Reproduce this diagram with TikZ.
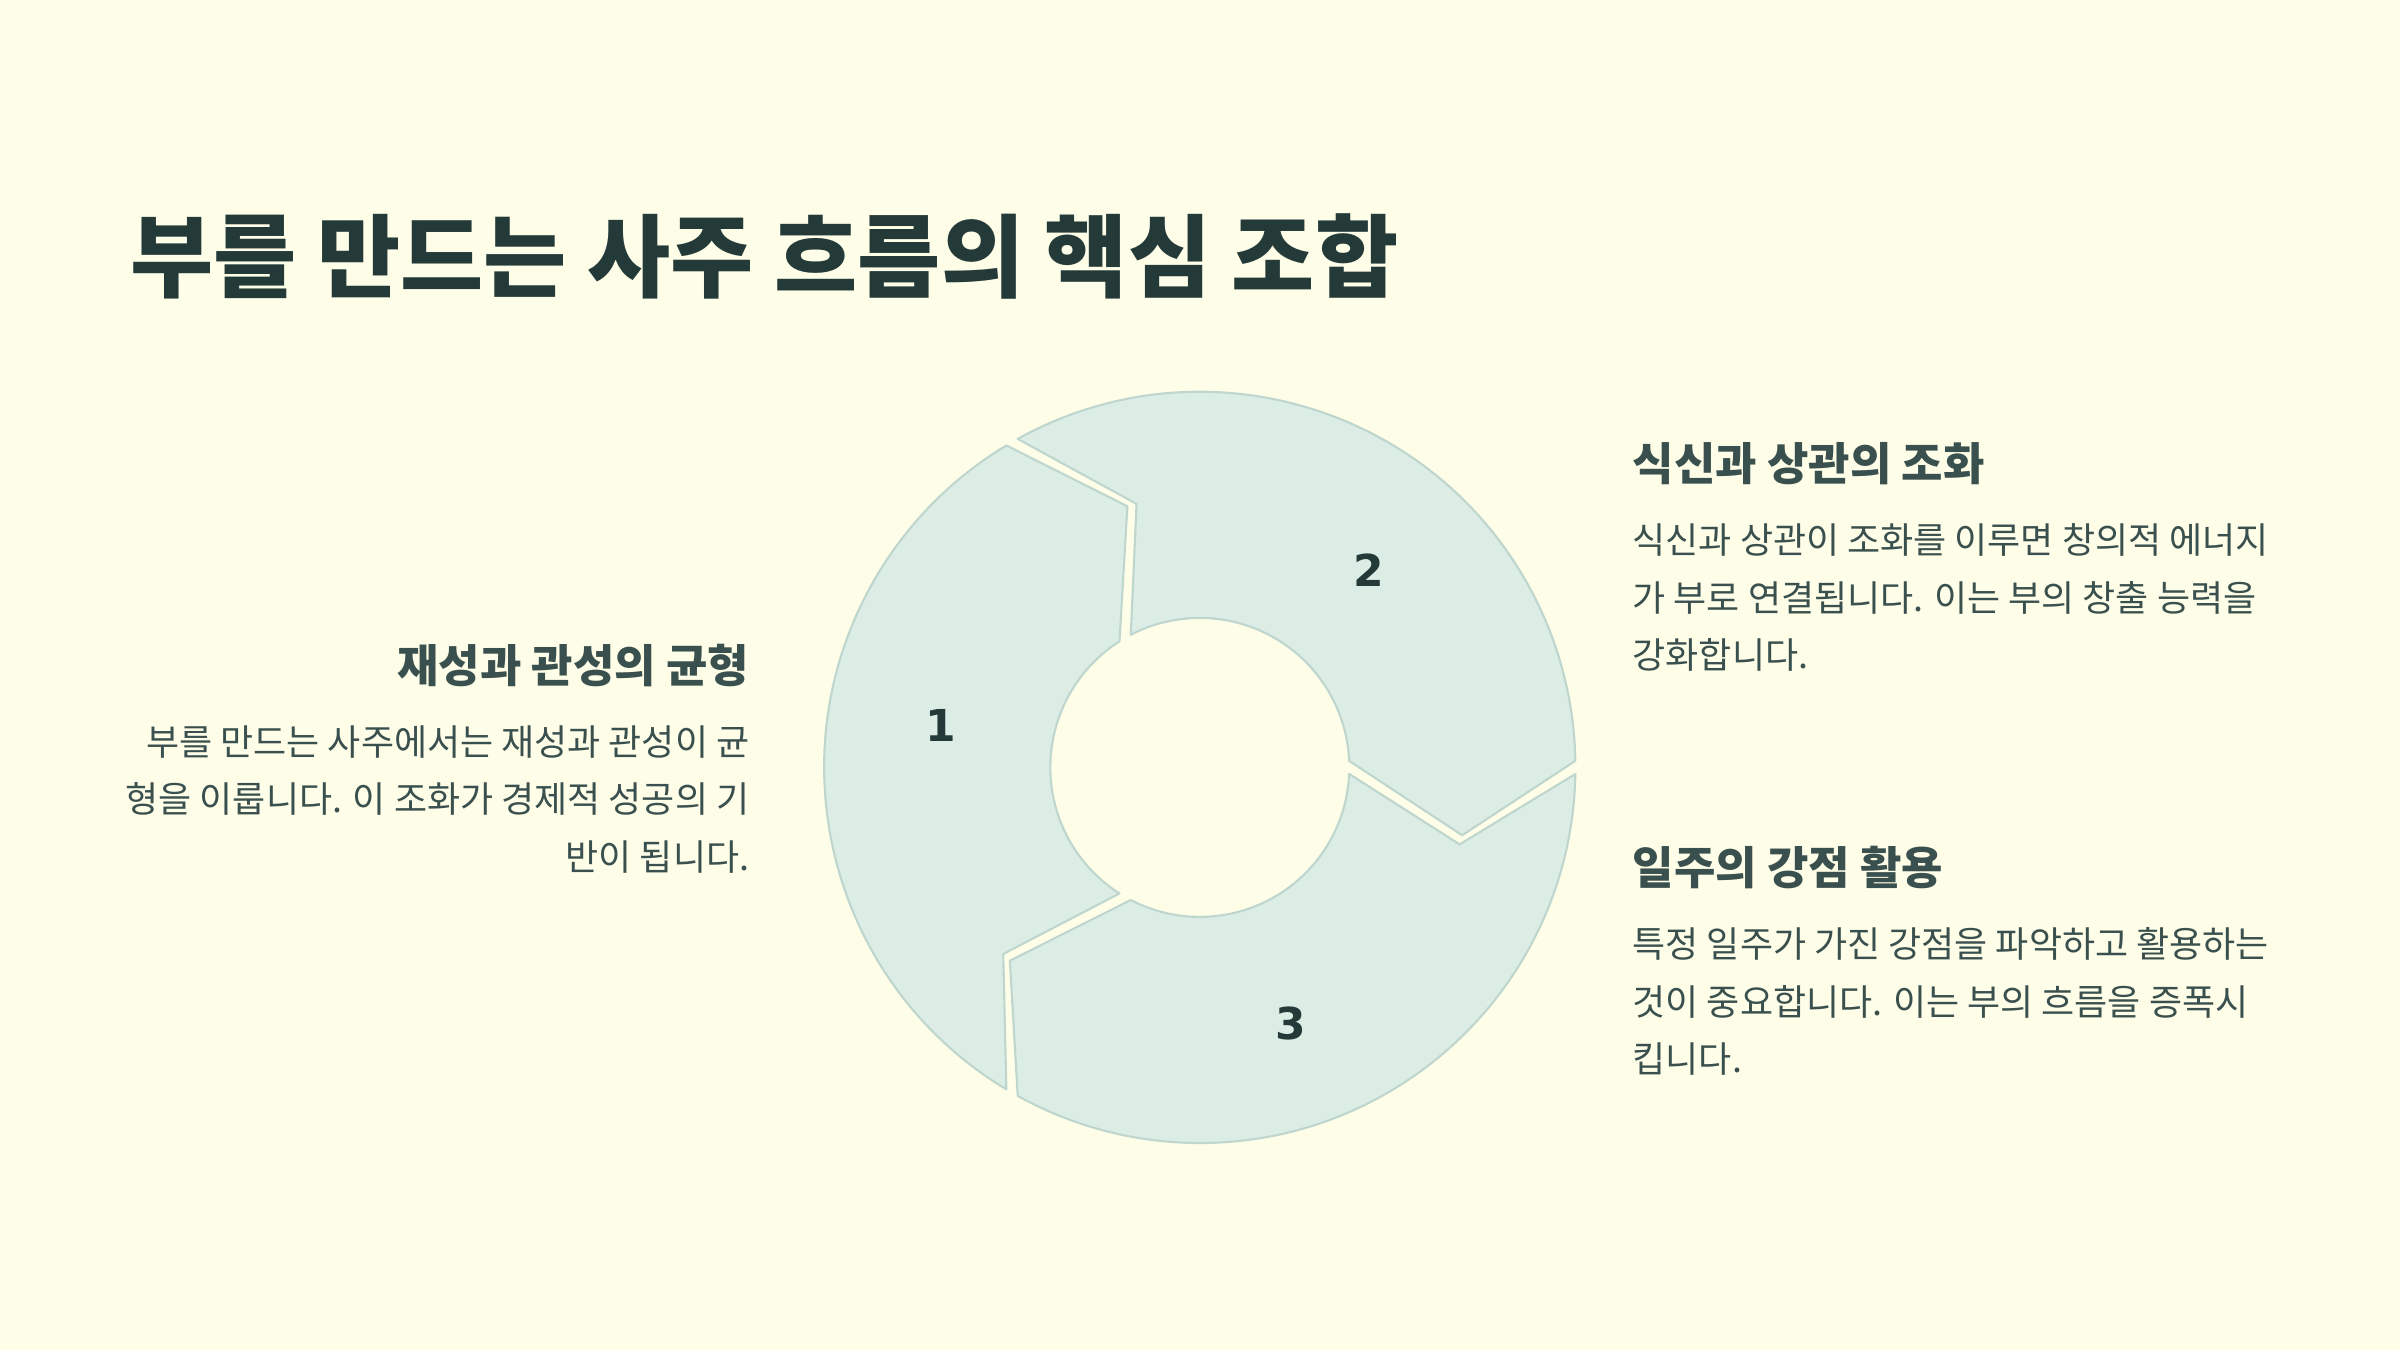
\documentclass[tikz,border=0pt]{standalone}
\usepackage{fontspec}
\setmainfont{Noto Sans CJK KR}
\newfontfamily\numfont{DejaVu Sans}
\usetikzlibrary{positioning}
\definecolor{paper}{HTML}{FEFDE8}
\definecolor{ringfill}{HTML}{DCEDE5}
\definecolor{ringline}{HTML}{BFD6CE}
\definecolor{ink}{HTML}{243A38}
\definecolor{bodyink}{HTML}{3A504E}
\tikzset{
  seg/.style  = {fill=ringfill, draw=ringline, line width=0.6pt, line join=round},
  num/.style  = {font=\numfont\bfseries\fontsize{12.5}{14}\selectfont, text=ink, inner sep=0pt},
  ttl/.style  = {font=\bfseries\fontsize{25.7}{30}\selectfont, text=ink, inner sep=0pt},
  head/.style = {font=\bfseries\fontsize{12.8}{15}\selectfont, text=bodyink, inner sep=0pt},
  body/.style = {font=\fontsize{10.23}{16.36}\selectfont, text=bodyink, inner sep=0pt},
}
\begin{document}
\begin{tikzpicture}[x=0.01cm, y=0.01cm]
  \fill[paper] (0,0) rectangle (2400,1350);
  \useasboundingbox (0,0) rectangle (2400,1350);

  % ring of three arrow segments, clockwise 1 -> 2 -> 3
  \begin{scope}[shift={(1199.8,582.6)}]
    \foreach \s [evaluate=\s as \e using \s-120] in {240,120,0}
      \draw[seg] ({\s-1}:375.6) arc[start angle=\s-1, end angle=\e+1, radius=375.6]
        -- ({\e-14.5}:271) -- ({\e+2.5}:149.5)
        arc[start angle=\e+2.5, end angle=\s-2.5, radius=149.5]
        -- ({\s-16.5}:271) -- cycle;
  \end{scope}

  \node[num] (n1) at (940.3,624.4) {1};
  \node[num] (n2) at (1368.9,780)  {2};
  \node[num] (n3) at (1290.8,327)  {3};

  \node[ttl, anchor=west] (title) at (130,1094) {부를 만드는 사주 흐름의 핵심 조합};

  \node[head, anchor=east] (h1) at (750,684.2) {재성과 관성의 균형};
  \node[body, anchor=north east, align=right] (b1) at (750,625)
    {부를 만드는 사주에서는 재성과 관성이 균\\형을 이룹니다. 이 조화가 경제적 성공의 기\\반이 됩니다.};

  \node[head, anchor=west] (h2) at (1632,886.2) {식신과 상관의 조화};
  \node[body, anchor=north west, align=left] (b2) at (1632,827)
    {식신과 상관이 조화를 이루면 창의적 에너지\\가 부로 연결됩니다. 이는 부의 창출 능력을\\강화합니다.};

  \node[head, anchor=west] (h3) at (1632,482.2) {일주의 강점 활용};
  \node[body, anchor=north west, align=left] (b3) at (1632,423)
    {특정 일주가 가진 강점을 파악하고 활용하는\\것이 중요합니다. 이는 부의 흐름을 증폭시\\킵니다.};
\end{tikzpicture}
\end{document}
